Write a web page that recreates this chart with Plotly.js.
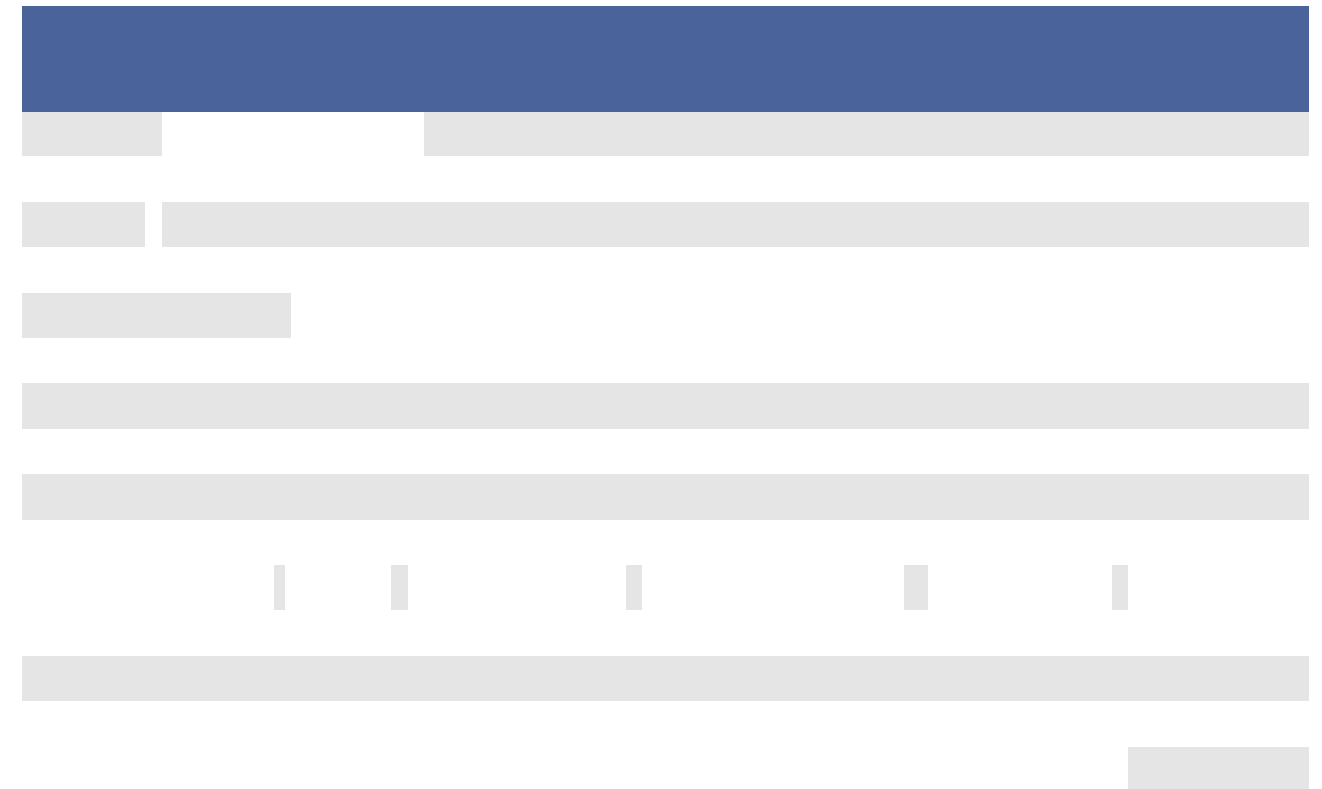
<!DOCTYPE html>
<html>
<head>
<meta charset="utf-8">
<script src="https://cdn.plot.ly/plotly-3.0.1.min.js"></script>
<style>
html, body { margin: 0; padding: 0; overflow: hidden; background: #ffffff; }
#chart { width: 1322px; height: 800px; }
</style>
</head>
<body>
<div id="chart"></div>
<script>
// ---- data ----
// 15 columns, header labels (no text visible in the reference)
const headerLabels = ["", "", "", "", "", "", "", "", "", "", "", "", "", "", ""];
// 15 rows of cell text (no text visible in the reference)
const rowCount = 15;
// shaded (1) / plain (0) cells, one list per row, one entry per column
const row00 = [1,1,0,0,0,0,0,0,1,1,1,1,1,1,1];
const row01 = [0,0,0,0,0,0,0,0,0,0,0,0,0,0,0];
const row02 = [1,0,1,1,1,1,1,1,1,1,1,1,1,1,1];
const row03 = [0,0,0,0,0,0,0,0,0,0,0,0,0,0,0];
const row04 = [1,1,1,1,1,0,0,0,0,0,0,0,0,0,0];
const row05 = [0,0,0,0,0,0,0,0,0,0,0,0,0,0,0];
const row06 = [1,1,1,1,1,1,1,1,1,1,1,1,1,1,1];
const row07 = [0,0,0,0,0,0,0,0,0,0,0,0,0,0,0];
const row08 = [1,1,1,1,1,1,1,1,1,1,1,1,1,1,1];
const row09 = [0,0,0,0,0,0,0,0,0,0,0,0,0,0,0];
const row10 = [0,0,0,1,0,0,1,0,0,1,0,1,0,1,0];
const row11 = [0,0,0,0,0,0,0,0,0,0,0,0,0,0,0];
const row12 = [1,1,1,1,1,1,1,1,1,1,1,1,1,1,1];
const row13 = [0,0,0,0,0,0,0,0,0,0,0,0,0,0,0];
const row14 = [0,0,0,0,0,0,0,0,0,0,0,0,0,0,1];
const shadedRows = [row00,row01,row02,row03,row04,row05,row06,row07,row08,row09,row10,row11,row12,row13,row14];

// ---- styles / layout ----
const columnWidths = [123,17,112,11,6,100,17,16,202,16,262,24,184,16,180];
const HEADER_BLUE = "#4a639b";
const SHADE = "#e5e5e5";
const PLAIN = "#ffffff";

const nCols = headerLabels.length;
const cellValues = [];
const fillColors = [];
const lineColors = [];
for (let c = 0; c < nCols; c++) {
  const vals = [], fills = [], lines = [];
  for (let r = 0; r < rowCount; r++) {
    vals.push("");
    const shaded = shadedRows[r][c] === 1;
    fills.push(shaded ? SHADE : PLAIN);
    lines.push(shaded ? SHADE : PLAIN);
  }
  cellValues.push(vals);
  fillColors.push(fills);
  lineColors.push(lines);
}

const trace = {
  type: "table",
  columnwidth: columnWidths,
  domain: { x: [0, 1], y: [0, 1] },
  header: {
    values: headerLabels,
    height: 105.5,
    fill: { color: HEADER_BLUE },
    line: { color: HEADER_BLUE, width: 1 },
    font: { family: "Open Sans, sans-serif", size: 12, color: "#ffffff" }
  },
  cells: {
    values: cellValues,
    height: 45.4,
    fill: { color: fillColors },
    line: { color: lineColors, width: 1 },
    font: { family: "Open Sans, sans-serif", size: 12, color: "#444444" }
  }
};

const layout = {
  width: 1322,
  height: 800,
  margin: { l: 22, r: 14, t: 6, b: 6 },
  paper_bgcolor: "#ffffff",
  showlegend: false
};

Plotly.newPlot("chart", [trace], layout, { displayModeBar: false, staticPlot: true });
</script>
</body>
</html>
